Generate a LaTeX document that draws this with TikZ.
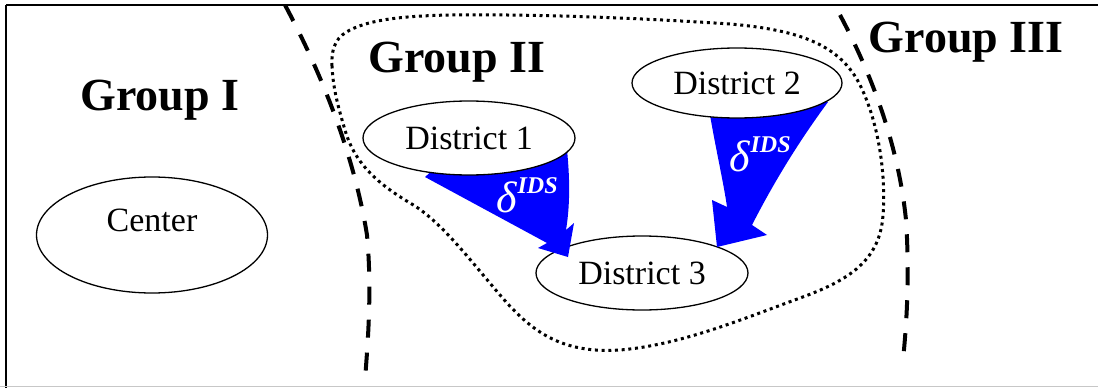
\documentclass[tikz,border=0pt]{standalone}
\usepackage{fontspec}
\setmainfont{Liberation Serif}
\pgfdeclarelayer{bottomlayer}
\pgfdeclarelayer{arrowlayer}
\pgfsetlayers{bottomlayer,arrowlayer,main}
\definecolor{arrowblue}{RGB}{0,0,255}
\tikzset{
  district/.style={draw, ellipse, line width=1.3pt, fill=white, minimum width=212pt, minimum height=74pt, inner sep=0pt,
    font=\fontsize{34}{34}\selectfont},
  grouplabel/.style={font=\fontsize{46}{46}\selectfont\bfseries, inner sep=0pt, anchor=base},
  boundary/.style={line width=4pt, dash pattern=on 18pt off 15pt},
  region/.style={line width=3pt, dash pattern=on 3pt off 3.7pt},
  flow/.style={fill=arrowblue},
  flowlabel/.style={text=white, inner sep=0pt, anchor=base west},
}
\usetikzlibrary{shapes.geometric}
\newcommand{\deltaids}{{\fontsize{44}{44}\selectfont\itshape δ}\kern1pt\raisebox{19pt}{\fontsize{24}{24}\selectfont\bfseries\itshape IDS}}
\begin{document}
\begin{tikzpicture}[x=1pt,y=-1pt]
\useasboundingbox (0,0) rectangle (1098,388);

% frame
\draw[line width=2pt] (6,388) -- (6,5);
\draw[line width=1.2pt] (6,5) -- (1098,5);
\draw[line width=1.4pt, black!22] (0,386.7) -- (1098,386.7);

% group labels
\node[grouplabel] (g1) at (160,110) {Group I};
\node[grouplabel] (g2) at (457,72) {Group II};
\node[grouplabel] (g3) at (966,52) {Group III};

% center
\node[district, minimum width=231pt, minimum height=116pt] (center) at (152,235) {};
\node[font=\fontsize{34}{34}\selectfont, inner sep=0pt] (centertext) at (152,220) {Center};

% district nodes (District 3 sits under the arrows)
\begin{pgfonlayer}{bottomlayer}
\node[district] (d3) at (642,273) {District 3};
\end{pgfonlayer}
\node[district] (d1) at (469,138) {District 1};
\node[district, minimum width=210pt, minimum height=70pt] (d2) at (737,83) {District 2};

% flows between districts
\begin{pgfonlayer}{arrowlayer}
\coordinate (t1a) at (425,177);
\coordinate (t1b) at (567,150);
\fill[flow] (t1a) -- (547,243) -- (538,248) -- (568,257) -- (574,223) -- (566,230)
  .. controls (571,200) and (569,170) .. (t1b) -- (d1.center) -- cycle;
\coordinate (t2a) at (710,115);
\coordinate (t2b) at (828,102);
\fill[flow] (t2a) .. controls (716,150) and (724,185) .. (727,207) -- (712,200) -- (717,247)
  -- (767,235) -- (752,225) .. controls (775,180) and (800,140) .. (t2b) -- (d2.center) -- cycle;
\end{pgfonlayer}
\node[flowlabel] (l1) at (496,212) {\deltaids};
\node[flowlabel] (l2) at (729,171) {\deltaids};

% region of group II
\draw[region] (332,66)
  .. controls (331,45) and (338,36) .. (350,30)
  .. controls (370,20) and (400,16) .. (450,15)
  .. controls (540,14) and (640,18) .. (730,24)
  .. controls (800,30) and (840,45) .. (860,85)
  .. controls (880,125) and (886,180) .. (883,215)
  .. controls (880,260) and (850,280) .. (800,298)
  .. controls (740,320) and (680,345) .. (620,350)
  .. controls (560,354) and (530,330) .. (500,295)
  .. controls (470,260) and (440,220) .. (410,203)
  .. controls (380,185) and (355,165) .. (345,130)
  .. controls (336,100) and (333,85) .. (332,66) -- cycle;

% group boundaries
\draw[boundary] (285,5) .. controls (325,80) and (355,160) .. (367,235)
  .. controls (372,290) and (368,340) .. (365,380);
\draw[boundary] (840,15) .. controls (880,90) and (900,160) .. (906,220)
  .. controls (910,280) and (906,330) .. (903,360);
\end{tikzpicture}
\end{document}
